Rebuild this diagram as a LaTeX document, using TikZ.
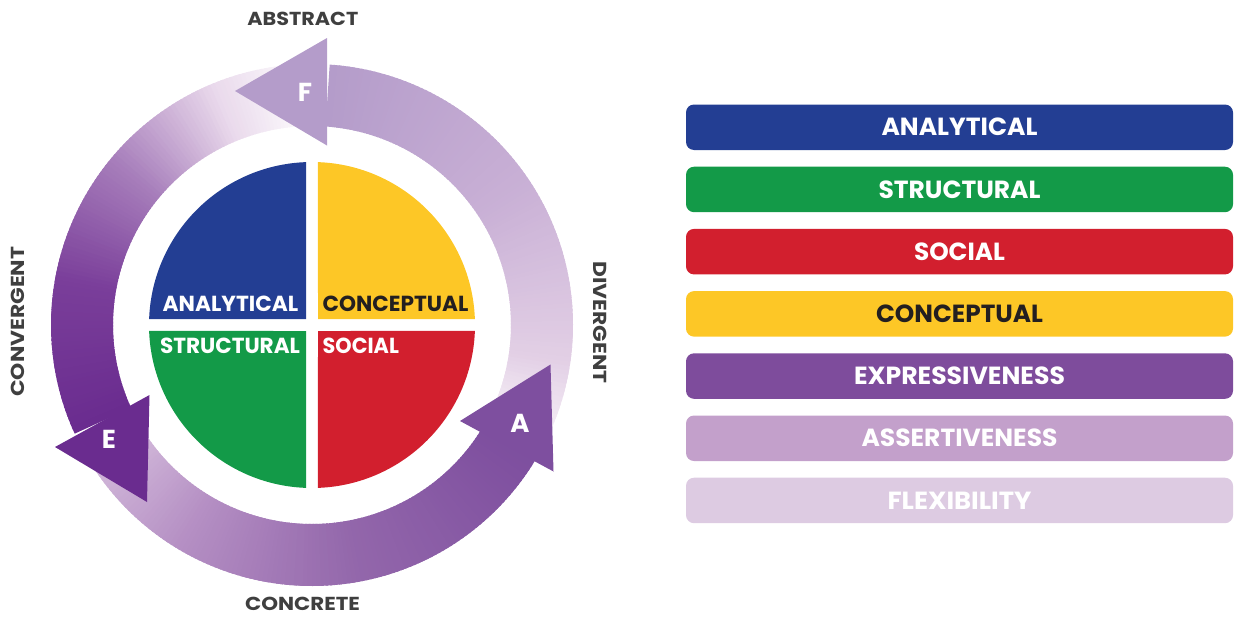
\documentclass[tikz,border=0pt]{standalone}
\usepackage{fontspec}
\setmainfont{Poppins}
\usepackage{graphicx}
\definecolor{cBlue}{HTML}{233E93}
\definecolor{cGreen}{HTML}{139A48}
\definecolor{cRed}{HTML}{D21F2E}
\definecolor{cYellow}{HTML}{FDC726}
\definecolor{cExpr}{HTML}{7E4C9C}
\definecolor{cAssert}{HTML}{C3A0CB}
\definecolor{cFlex}{HTML}{DDCBE2}
\definecolor{cE}{HTML}{6A2C8F}
\definecolor{cA}{HTML}{7E4F9F}
\definecolor{cF}{HTML}{B49CCA}
\definecolor{cText}{HTML}{3F3F3F}
\definecolor{cDark}{HTML}{231F20}
% gradient stops
\definecolor{eOne}{HTML}{EADAEC}
\definecolor{eTwo}{HTML}{A77EBB}
\definecolor{eThree}{HTML}{7A3E9A}
\definecolor{aOne}{HTML}{D6BEDD}
\definecolor{aTwo}{HTML}{B48EC3}
\definecolor{aThree}{HTML}{9367AB}
\definecolor{fZero}{HTML}{F7F1F7}
\definecolor{fOne}{HTML}{E2CFE5}
\definecolor{fTwo}{HTML}{C8AFD5}
\newsavebox\fitbox
\newcommand\fitw[2]{\sbox\fitbox{#2}\pgfmathsetmacro\fitsx{#1/\the\wd\fitbox}\scalebox{\fitsx}[1]{\usebox\fitbox}}
\newcommand\rin{199}
\newcommand\rout{261}
\newcommand\ringseg[3]{%
  \fill[#3] (-#1:\rin) arc[start angle=-#1, end angle=-#2, radius=\rin]
    -- (-#2:\rout) arc[start angle=-#2, end angle=-#1, radius=\rout] -- cycle;}
\newcommand\gradarc[4]{%
  \pgfmathtruncatemacro\gnseg{max(1,round(#2-#1))}%
  \foreach \gi in {1,...,\gnseg}{%
    \pgfmathsetmacro\gaa{#1+(#2-#1)*(\gi-1)/\gnseg}%
    \pgfmathsetmacro\gab{\gaa+1.6}%
    \pgfmathtruncatemacro\gp{100*(\gi-0.5)/\gnseg}%
    \ringseg{\gaa}{\gab}{#4!\gp!#3}%
  }}
\tikzset{
  legbox/.style={rounded corners=8pt, minimum width=547pt, minimum height=45.5pt, inner sep=0pt,
    text=white, font=\fontsize{24.8}{25}\selectfont\bfseries},
  pielbl/.style={inner sep=0pt, text=white, font=\fontsize{21.8}{22}\selectfont\bfseries},
  outlbl/.style={inner sep=0pt, text=cText, font=\fontsize{18.8}{19}\selectfont\bfseries},
  letter/.style={inner sep=0pt, text=white, font=\fontsize{26}{27}\selectfont\bfseries},
}
\begin{document}
\begin{tikzpicture}[x=1pt,y=-1pt]
\useasboundingbox (0,0) rectangle (1236,616);
% pie quadrants
\begin{scope}[shift={(312,325)}]
  \fill[cBlue] (-6,-6) -- (-92.1:163) arc[start angle=-92.1, end angle=-177.9, radius=163] -- cycle;
  \fill[cYellow] (6,-6) -- (-87.9:163) arc[start angle=-87.9, end angle=-2.1, radius=163] -- cycle;
  \fill[cGreen] (-6,6) -- (-182.1:163) arc[start angle=-182.1, end angle=-267.9, radius=163] -- cycle;
  \fill[cRed] (6,6) -- (-272.1:163) arc[start angle=-272.1, end angle=-357.9, radius=163] -- cycle;
  % ring bodies
  % E body
  \gradarc{90}{112}{white}{eOne}
  \gradarc{112}{140}{eOne}{eTwo}
  \gradarc{140}{170}{eTwo}{eThree}
  \gradarc{170}{204}{eThree}{cE}
  % A body
  \gradarc{209}{240}{aOne}{aTwo}
  \gradarc{240}{280}{aTwo}{aThree}
  \gradarc{280}{328}{aThree}{cA}
  % F body
  \gradarc{334}{352}{fZero}{fOne}
  \gradarc{352}{395}{fOne}{fTwo}
  \gradarc{395}{445.5}{fTwo}{cF}
\end{scope}
% arrowheads
\fill[cF] (327,38) -- (235,91) -- (327,145.5) -- cycle;
\fill[cE] (55,447) -- (147,502) -- (149.5,395) -- cycle;
\fill[cA] (553.5,471.5) -- (550.5,364.5) -- (460,421) -- cycle;
\node[letter] (lF) at (305,92) {F};
\node[letter] (lE) at (109,439) {E};
\node[letter] (lA) at (520,423) {A};
% pie labels
\node[pielbl] (pA) at (230.5,303.7) {\fitw{135.7}{ANALYTICAL}};
\node[pielbl, text=cDark] (pC) at (395.5,303.7) {\fitw{145.7}{CONCEPTUAL}};
\node[pielbl] (pS) at (230,345.8) {\fitw{140}{STRUCTURAL}};
\node[pielbl] (pO) at (360.8,345.8) {\fitw{76.3}{SOCIAL}};
% outer labels
\node[outlbl] (tAbs) at (302.8,19.2) {\fitw{111}{ABSTRACT}};
\node[outlbl] (tCon) at (302.5,604.3) {\fitw{115}{CONCRETE}};
\node[outlbl, rotate=90] (tCvg) at (18.3,321.7) {\fitw{150}{CONVERGENT}};
\node[outlbl, rotate=-90] (tDvg) at (599.7,322.5) {\fitw{121.7}{DIVERGENT}};
% legend
\node[legbox, fill=cBlue] (b1) at (959.5,127.25) {\fitw{156}{ANALYTICAL}};
\node[legbox, fill=cGreen] (b2) at (959.5,189.45) {\fitw{162}{STRUCTURAL}};
\node[legbox, fill=cRed] (b3) at (959.5,251.65) {\fitw{91}{SOCIAL}};
\node[legbox, fill=cYellow, text=cDark] (b4) at (959.5,313.85) {\fitw{167}{CONCEPTUAL}};
\node[legbox, fill=cExpr] (b5) at (959.5,376.05) {\fitw{211}{EXPRESSIVENESS}};
\node[legbox, fill=cAssert] (b6) at (959.5,438.25) {\fitw{196}{ASSERTIVENESS}};
\node[legbox, fill=cFlex] (b7) at (959.5,500.45) {\fitw{144}{FLEXIBILITY}};
\end{tikzpicture}
\end{document}
